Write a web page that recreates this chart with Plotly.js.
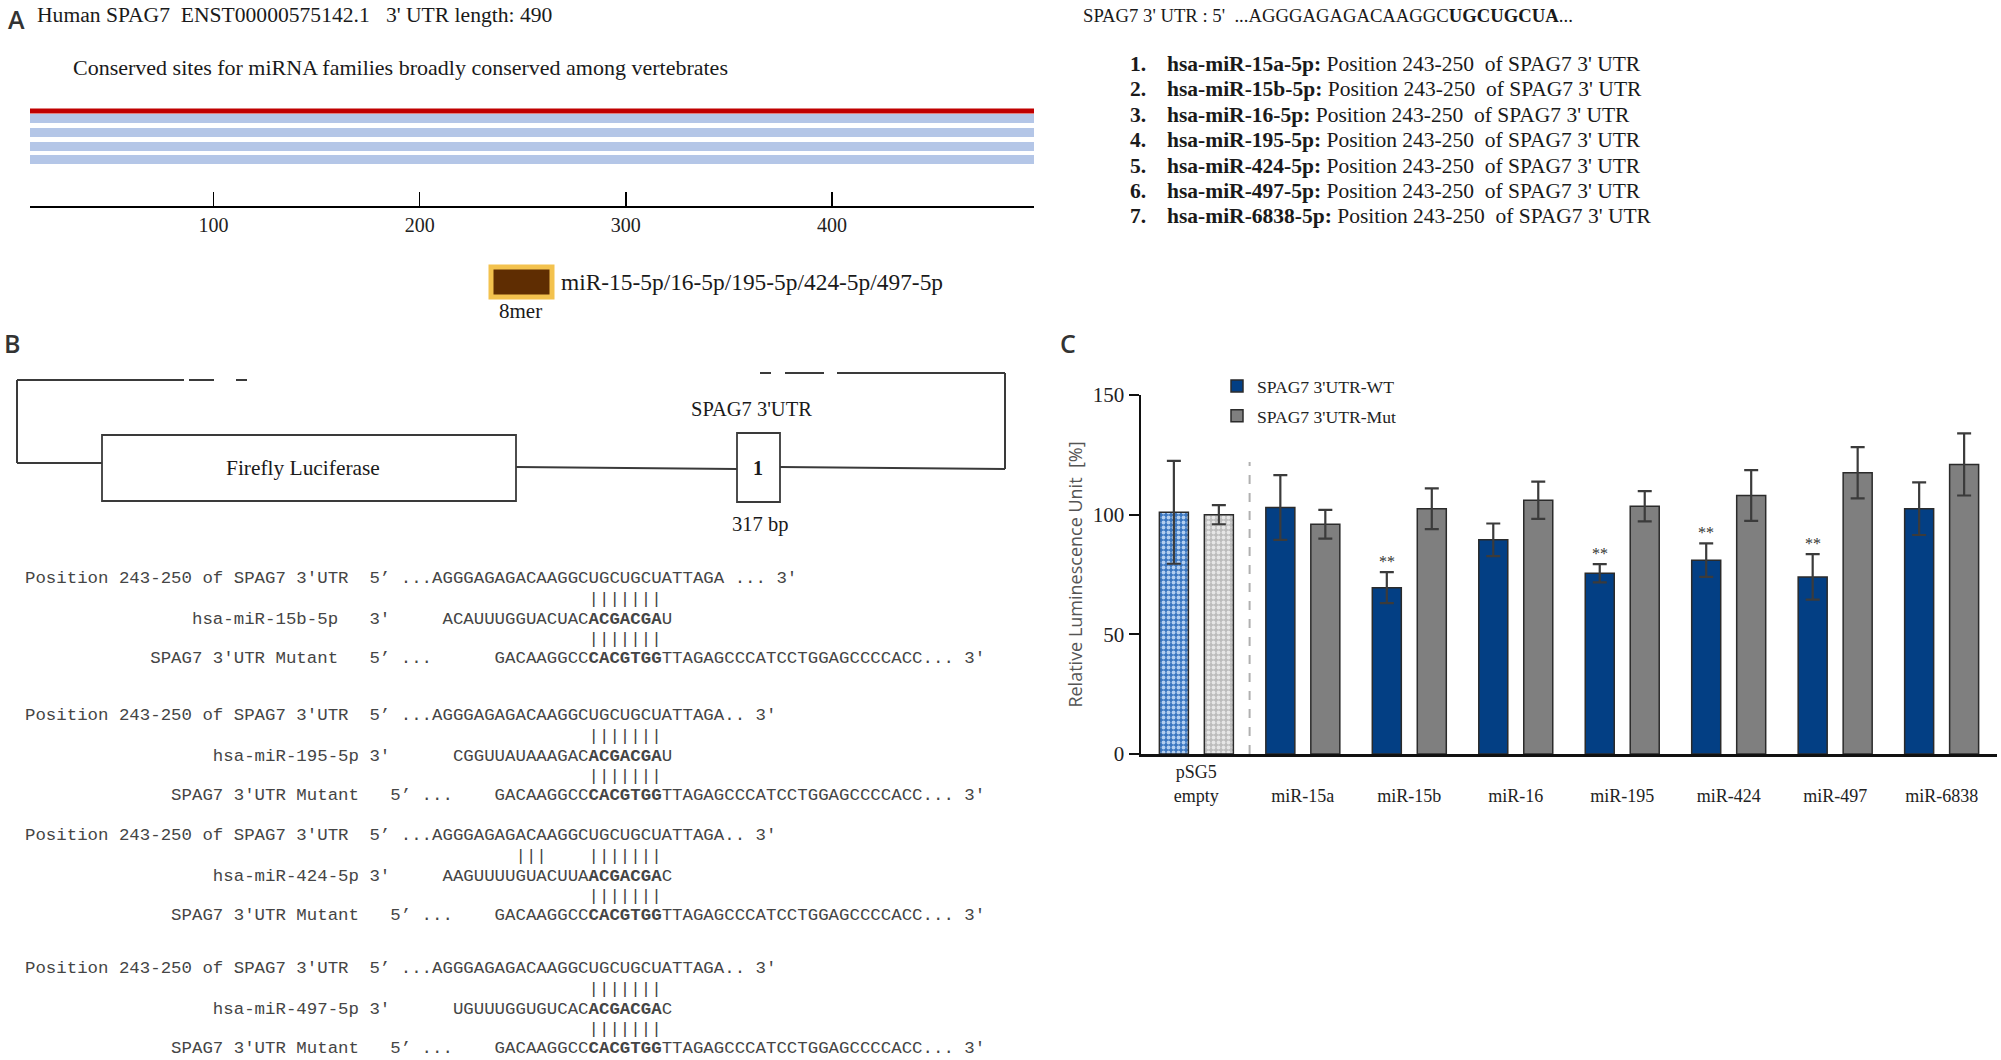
<!DOCTYPE html>
<html><head><meta charset="utf-8">
<script src="https://cdn.plot.ly/plotly-3.0.1.min.js"></script>
<style>html,body{margin:0;padding:0;background:#fff}#chart{width:2001px;height:1060px}</style>
</head><body><div id="chart"></div>
<script>
// ---------------- Data ----------------
// Panel A
const geneName = 'SPAG7';
const transcriptId = 'ENST00000575142.1';
const utrLength = 490;
const utrTrackStart = 11;
const utrTrackEnd = 498;
const utrTicks = [100, 200, 300, 400];
const siteFamilies = 'miR-15-5p/16-5p/195-5p/424-5p/497-5p';
const siteType = '8mer';
const utrContextPlain = '...AGGGAGAGACAAGGC';
const utrContextSite = 'UGCUGCUA';
const mirnaNames = ['hsa-miR-15a-5p', 'hsa-miR-15b-5p', 'hsa-miR-16-5p', 'hsa-miR-195-5p',
                    'hsa-miR-424-5p', 'hsa-miR-497-5p', 'hsa-miR-6838-5p'];
const sitePosition = '243-250';

// Panel B
const constructLabel = 'Firefly Luciferase';
const utrInsertLabel = "SPAG7 3'UTR";
const utrInsertSize = '317 bp';
const alignMirs = ['hsa-miR-15b-5p', 'hsa-miR-195-5p', 'hsa-miR-424-5p', 'hsa-miR-497-5p'];
const mirSeqPrefix = ['ACAUUUGGUACUAC', 'CGGUUAUAAAGAC', 'AAGUUUUGUACUUA', 'UGUUUGGUGUCAC'];
const mirSeed = 'ACGACGA';
const mirSeqSuffix = ['U', 'U', 'C', 'C'];
const wtSeq = 'AGGGAGAGACAAGGCUGCUGCUATTAGA';
const mutPrefix = 'GACAAGGCC';
const mutSite = 'CACGTGG';
const mutSuffix = 'TTAGAGCCCATCCTGGAGCCCCACC';

// Panel C
const categories = ['pSG5 empty', 'miR-15a', 'miR-15b', 'miR-16', 'miR-195', 'miR-424', 'miR-497', 'miR-6838'];
const wtValues  = [101, 103, 69.5, 89.5, 75.5, 81, 74, 102.5];
const wtErrors  = [21.5, 13.5, 6.5, 6.8, 3.8, 7, 9.5, 11];
const mutValues = [100, 96, 102.5, 106, 103.5, 108, 117.5, 121];
const mutErrors = [4, 6, 8.5, 7.8, 6.3, 10.6, 10.7, 13];
const significance = ['', '', '**', '', '**', '**', '**', ''];
const yTicks = [0, 50, 100, 150];
const seriesNames = ["SPAG7 3'UTR-WT", "SPAG7 3'UTR-Mut"];

// ---------------- Helpers ----------------
const W = 2001, H = 1060;
const px = x => x / W;
const py = y => 1 - y / H;
const SERIF = 'Liberation Serif, Times New Roman, serif';
const MONO = 'Liberation Mono, Courier New, monospace';
const SANS = 'Open Sans, Noto Sans, sans-serif';
const NB = '\u00a0';
const sp = n => NB.repeat(n);

const annotations = [];
function txt(x, y, text, font, anchor, extra) {
  annotations.push(Object.assign({
    xref: 'paper', yref: 'paper', x: px(x), y: py(y), text: text,
    showarrow: false, xanchor: anchor || 'left', yanchor: 'middle',
    borderpad: 0, borderwidth: 0, font: font
  }, extra || {}));
}
const shapes = [];
function line(x0, y0, x1, y1, color, width, dash) {
  shapes.push({type: 'line', xref: 'paper', yref: 'paper', x0: px(x0), y0: py(y0), x1: px(x1), y1: py(y1),
    line: {color: color || '#3a3a3a', width: width || 2, dash: dash || 'solid'}});
}
function rect(x0, y0, x1, y1, lineColor, lineWidth, fill) {
  shapes.push({type: 'rect', xref: 'paper', yref: 'paper', x0: px(x0), y0: py(y0), x1: px(x1), y1: py(y1),
    line: {color: lineColor, width: lineWidth}, fillcolor: fill || 'rgba(0,0,0,0)'});
}

// ---------------- Panel labels ----------------
const labelFont = {family: SANS, size: 25, color: '#333', weight: 600};
txt(8, 19, 'A', labelFont);
txt(4, 343, 'B', labelFont);
txt(1060, 343, 'C', labelFont);

// ---------------- Panel A ----------------
const serif = (s, c) => ({family: SERIF, size: s, color: c || '#1a1a1a'});
txt(37, 15, 'Human ' + geneName + sp(2) + transcriptId + sp(3) + "3' UTR length: " + utrLength, serif(21.6));
txt(73, 68, 'Conserved sites for miRNA families broadly conserved among vertebrates', serif(22));
txt(1083, 15, geneName + " 3' UTR : 5'" + sp(2) + utrContextPlain + '<b>' + utrContextSite + '</b>...', serif(18.7));
mirnaNames.forEach((m, i) => {
  const y = 64 + i * 25.4;
  txt(1130, y, '<b>' + (i + 1) + '.</b>', serif(21.5));
  txt(1167, y, '<b>' + m + ':</b> Position ' + sitePosition + sp(2) + 'of ' + geneName + " 3' UTR", serif(21.5));
});
// 8mer legend box
rect(491, 267, 552, 297, '#f3c24e', 5, '#5f2d02');
txt(561, 282, siteFamilies, serif(23.4));
txt(520, 311, siteType, serif(21), 'center');

// ---------------- Panel B diagram ----------------
const lc = '#3a3a3a';
line(17, 380, 17, 463, lc, 2);
line(17, 380, 184, 380, lc, 2);
line(189, 380, 214, 380, lc, 2);
line(236, 380, 247, 380, lc, 2);
line(17, 463, 102, 463, lc, 2);
rect(102, 435, 516, 501, lc, 1.8);
line(516, 467, 737, 469, lc, 2);
rect(737, 433, 780, 502, lc, 1.8);
line(780, 467, 1005, 469, lc, 2);
line(1005, 469, 1005, 373, lc, 2);
line(1005, 373, 837, 373, lc, 2);
line(824, 373, 785, 373, lc, 2);
line(771, 373, 760, 373, lc, 2);
txt(303, 468, constructLabel, serif(21.4), 'center');
txt(758, 468, '<b>1</b>', serif(20), 'center');
txt(751, 409, utrInsertLabel, serif(20.5), 'center');
txt(760, 525, utrInsertSize, serif(20.5), 'center');

// ---------------- Panel B alignments ----------------
const mono = {family: MONO, size: 17.4, color: '#454545'};
const blockY = [578, 715, 835, 968];
const rowOff = [0, 21, 41, 61, 80];
for (let b = 0; b < 4; b++) {
  const y0 = blockY[b];
  const wtTail = b === 0 ? ' ... 3\'' : '.. 3\'';
  const wtLine = 'Position ' + sitePosition + ' of ' + geneName + " 3'UTR" + sp(2) + '5\u2019 ...' + wtSeq + wtTail.replace(/ /g, NB);
  const nameStart = b === 0 ? 16 : 18;
  const name = alignMirs[b];
  const gapTo3 = 33 - (nameStart + name.length);
  const seqStart = 54 - mirSeqPrefix[b].length;
  const mirLine = sp(nameStart) + name + sp(gapTo3) + "3'" + sp(seqStart - 35) + mirSeqPrefix[b] +
                  '<b>' + mirSeed + '</b>' + mirSeqSuffix[b];
  const bars1 = b === 2 ? sp(47) + '|||' + sp(4) + '|||||||' : sp(54) + '|||||||';
  const bars2 = sp(54) + '|||||||';
  const mutLabel = "SPAG7 3'UTR Mutant";
  const mStart = b === 0 ? 12 : 14;
  const fiveCol = mStart + mutLabel.length + 3;
  const mutLine = sp(mStart) + mutLabel.replace(/ /g, NB) + sp(3) + '5\u2019' + NB + '...' + sp(45 - (fiveCol + 6)) +
                  mutPrefix + '<b>' + mutSite + '</b>' + mutSuffix + '...' + NB + "3'";
  txt(25, y0 + rowOff[0], wtLine.replace(/ /g, NB), mono);
  txt(25, y0 + rowOff[1], bars1, mono);
  txt(25, y0 + rowOff[2], mirLine, mono);
  txt(25, y0 + rowOff[3], bars2, mono);
  txt(25, y0 + rowOff[4], mutLine, mono);
}

// ---------------- Panel C ----------------
const wtColor = '#033f84', mutColor = '#7f7f7f';
const barLine = {color: '#2b2b2b', width: 1.5};
const errStyle = (arr) => ({type: 'data', array: arr, visible: true, color: '#3b3b3b', thickness: 2.2, width: 7});
const traces = [];

// Panel A tracks drawn on their own axis
const trackLevels = [95, 87.5, 73.5, 59.5, 46.5];
trackLevels.forEach((lvl, i) => {
  traces.push({type: 'scatter', mode: 'lines', xaxis: 'x2', yaxis: 'y2',
    x: [utrTrackStart, utrTrackEnd], y: [lvl, lvl], showlegend: false, hoverinfo: 'skip',
    line: {color: i === 0 ? '#c00000' : '#b4c6e7', width: i === 0 ? 5 : 9}});
});

traces.push({type: 'bar', name: seriesNames[0], x: [categories[0]], y: [wtValues[0]],
  error_y: errStyle([wtErrors[0]]), offsetgroup: 'wt', showlegend: false,
  marker: {color: '#3a76c0', line: barLine,
    pattern: {shape: '.', fillmode: 'replace', bgcolor: '#3a76c0', fgcolor: '#b3cff0', size: 5, solidity: 0.45}}});
traces.push({type: 'bar', name: seriesNames[1], x: [categories[0]], y: [mutValues[0]],
  error_y: errStyle([mutErrors[0]]), offsetgroup: 'mut', showlegend: false,
  marker: {color: '#bdbdbd', line: barLine,
    pattern: {shape: '.', fillmode: 'replace', bgcolor: '#bcbcbc', fgcolor: '#e6e6e6', size: 5, solidity: 0.45}}});
traces.push({type: 'bar', name: seriesNames[0], x: categories.slice(1), y: wtValues.slice(1),
  error_y: errStyle(wtErrors.slice(1)), offsetgroup: 'wt', legendgroup: 'wt',
  marker: {color: wtColor, line: barLine}});
traces.push({type: 'bar', name: seriesNames[1], x: categories.slice(1), y: mutValues.slice(1),
  error_y: errStyle(mutErrors.slice(1)), offsetgroup: 'mut', legendgroup: 'mut',
  marker: {color: mutColor, line: barLine}});

// significance marks
categories.forEach((c, i) => {
  if (!significance[i]) return;
  annotations.push({xref: 'x', yref: 'y', x: c, y: wtValues[i] + wtErrors[i], text: significance[i],
    showarrow: false, xanchor: 'center', yanchor: 'bottom', xshift: -22.5, yshift: 0,
    font: {family: SERIF, size: 16, color: '#333'}});
});

// separator between control and miRNA groups
shapes.push({type: 'line', xref: 'x', yref: 'y', x0: 0.5, x1: 0.5, y0: 0, y1: 122,
  line: {color: '#b0b0b0', width: 2, dash: 'dash'}});

const tickText = categories.map((c, i) => i === 0 ? c.replace(' ', '<br>') : NB + '<br>' + c);

const layout = {
  width: W, height: H, autosize: false,
  margin: {l: 0, r: 0, t: 0, b: 0, pad: 0},
  paper_bgcolor: '#fff', plot_bgcolor: 'rgba(0,0,0,0)',
  barmode: 'group', bargap: 0.155, bargroupgap: 0.355,
  showlegend: true,
  legend: {x: px(1217), y: py(368), xanchor: 'left', yanchor: 'top', bgcolor: 'rgba(0,0,0,0)',
    font: {family: SERIF, size: 17.6, color: '#222'}, traceorder: 'grouped', tracegroupgap: 4},
  xaxis: {domain: [px(1141), px(1997)], anchor: 'y', type: 'category', categoryorder: 'array',
    categoryarray: categories, range: [-0.52, 7.52], showline: true, linecolor: '#111', linewidth: 2.5,
    ticks: '', tickvals: categories, ticktext: tickText, tickfont: {family: SERIF, size: 18, color: '#222'},
    showgrid: false, zeroline: false, fixedrange: true},
  yaxis: {domain: [py(754), py(395)], anchor: 'x', range: [0, 150], showline: true, linecolor: '#111',
    linewidth: 2.5, ticks: 'outside', ticklen: 10, tickwidth: 2, tickcolor: '#111', tickvals: yTicks,
    tickfont: {family: SERIF, size: 21, color: '#222'}, showgrid: false, zeroline: false, fixedrange: true,
    title: {text: 'Relative Luminescence Unit' + sp(2) + '[%]', font: {family: SANS, size: 18, color: '#555'}, standoff: 6}},
  xaxis2: {domain: [px(30), px(1034)], anchor: 'y2', range: [utrTrackStart, utrTrackEnd], showline: true,
    linecolor: '#000', linewidth: 2, ticks: 'inside', ticklen: 14, tickwidth: 1.5, tickcolor: '#000',
    tickvals: utrTicks, tickfont: {family: SERIF, size: 20, color: '#222'}, showgrid: false, zeroline: false,
    fixedrange: true},
  yaxis2: {domain: [py(206), py(106)], anchor: 'x2', range: [0, 100], visible: false, fixedrange: true},
  annotations: annotations,
  shapes: shapes
};

Plotly.newPlot('chart', traces, layout, {staticPlot: true});
</script>
</body></html>
